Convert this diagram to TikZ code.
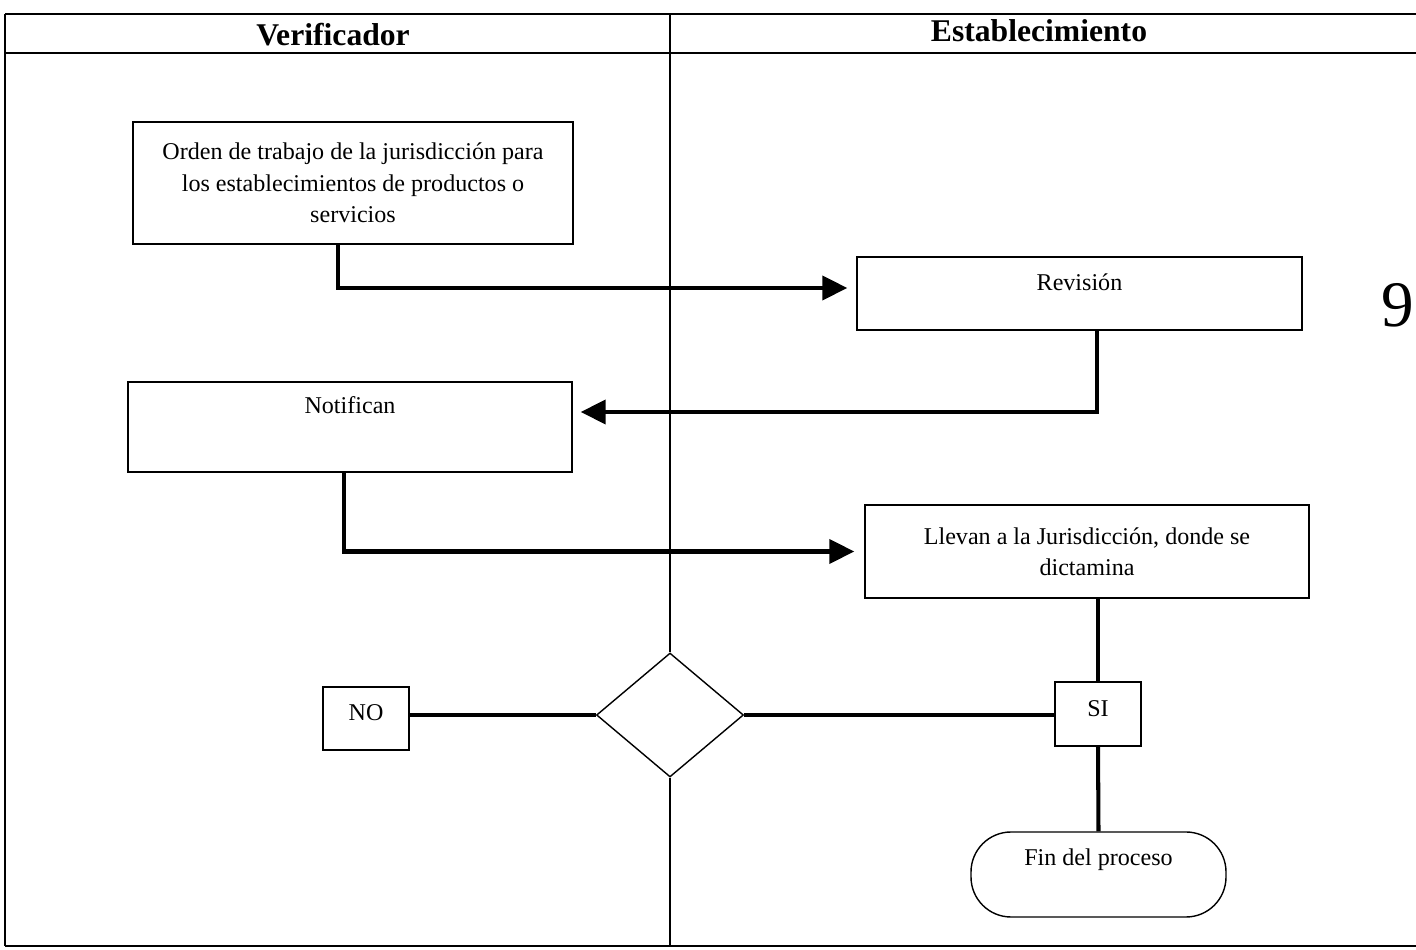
\documentclass[tikz,border=0pt]{standalone}
\usepackage{fontspec}
\setmainfont{Liberation Serif}
\usetikzlibrary{positioning}
\usetikzlibrary{arrows.meta}
\usetikzlibrary{shapes.geometric}

\begin{document}
\begin{tikzpicture}[
    every node/.style={font=\fontsize{13.7}{17.9}\selectfont},
    stepbox/.style={draw, line width=0.8pt, align=center, inner sep=2pt},
    lanehead/.style={font=\fontsize{18}{22}\selectfont\bfseries},
    flow/.style={line width=2.3pt},
    flowarrow/.style={flow, -{Triangle[length=0.5cm, width=0.48cm]}},
]
    \useasboundingbox (0,0) rectangle (28.32,19);

    % lanes
    \draw[line width=1.1pt] (0.1,18.72) -- (28.32,18.72);
    \draw[line width=1.1pt] (0.1,17.94) -- (28.32,17.94);
    \draw[line width=1.1pt] (0.1,0.08) -- (28.32,0.08);
    \draw[line width=0.8pt] (0.1,18.72) -- (0.1,0.08);
    \node[lanehead] (verif) at (6.66,18.3) {Verificador};
    \node[lanehead] (estab) at (20.78,18.38) {Establecimiento};

    % steps
    \node[stepbox, minimum width=8.8cm, minimum height=2.44cm] (orden) at (7.06,15.34)
        {Orden de trabajo de la jurisdicción para\\los establecimientos de productos o\\servicios};
    \node[stepbox, minimum width=8.9cm, minimum height=1.46cm, text height=0.37cm, text depth=0.5cm] (revision) at (21.59,13.13) {Revisión};
    \node[stepbox, minimum width=8.88cm, minimum height=1.8cm, text height=0.34cm, text depth=0.86cm] (notifican) at (7.0,10.46) {Notifican};
    \node[stepbox, minimum width=8.88cm, minimum height=1.86cm] (llevan) at (21.74,7.97)
        {Llevan a la Jurisdicción, donde se\\dictamina};
    \node[draw, diamond, line width=0.8pt, fill=white, inner sep=0pt, minimum width=2.94cm, minimum height=2.48cm] (decision) at (13.4,4.7) {};
    \node[stepbox, minimum width=1.72cm, minimum height=1.26cm, text height=0.32cm, text depth=0.22cm] (no) at (7.32,4.63) {NO};
    \node[stepbox, minimum width=1.72cm, minimum height=1.28cm, text height=0.32cm, text depth=0.22cm] (si) at (21.96,4.72) {SI};
    \node[stepbox, rounded corners=0.8cm, minimum width=5.1cm, minimum height=1.7cm, text height=0.33cm, text depth=0.67cm] (fin) at (21.97,1.51) {Fin del proceso};

    % lane divider
    \draw[line width=0.8pt] (13.4,18.72) -- (decision.north);
    \draw[line width=0.8pt] (decision.south) -- (13.4,0.08);

    % connectors
    \draw[flowarrow] ([xshift=-0.3cm]orden.south) |- ([xshift=-0.18cm, yshift=0.11cm]revision.west);
    \draw[flowarrow] ([xshift=0.35cm]revision.south) |- ([xshift=0.16cm, yshift=0.3cm]notifican.east);
    \draw[flowarrow] ([xshift=-0.12cm]notifican.south) |- ([xshift=-0.2cm]llevan.west);
    \draw[flow] (si.north |- llevan.south) -- (si.north);
    \draw[flow] (decision.east) -- (decision.east -| si.west);
    \draw[flow] (decision.west -| no.east) -- (decision.west);
    \draw[flow] (si.south) -- (fin.north);

    \node[font=\fontsize{37}{40}\selectfont] (pagenum) at (27.96,12.9) {9};
\end{tikzpicture}
\end{document}
